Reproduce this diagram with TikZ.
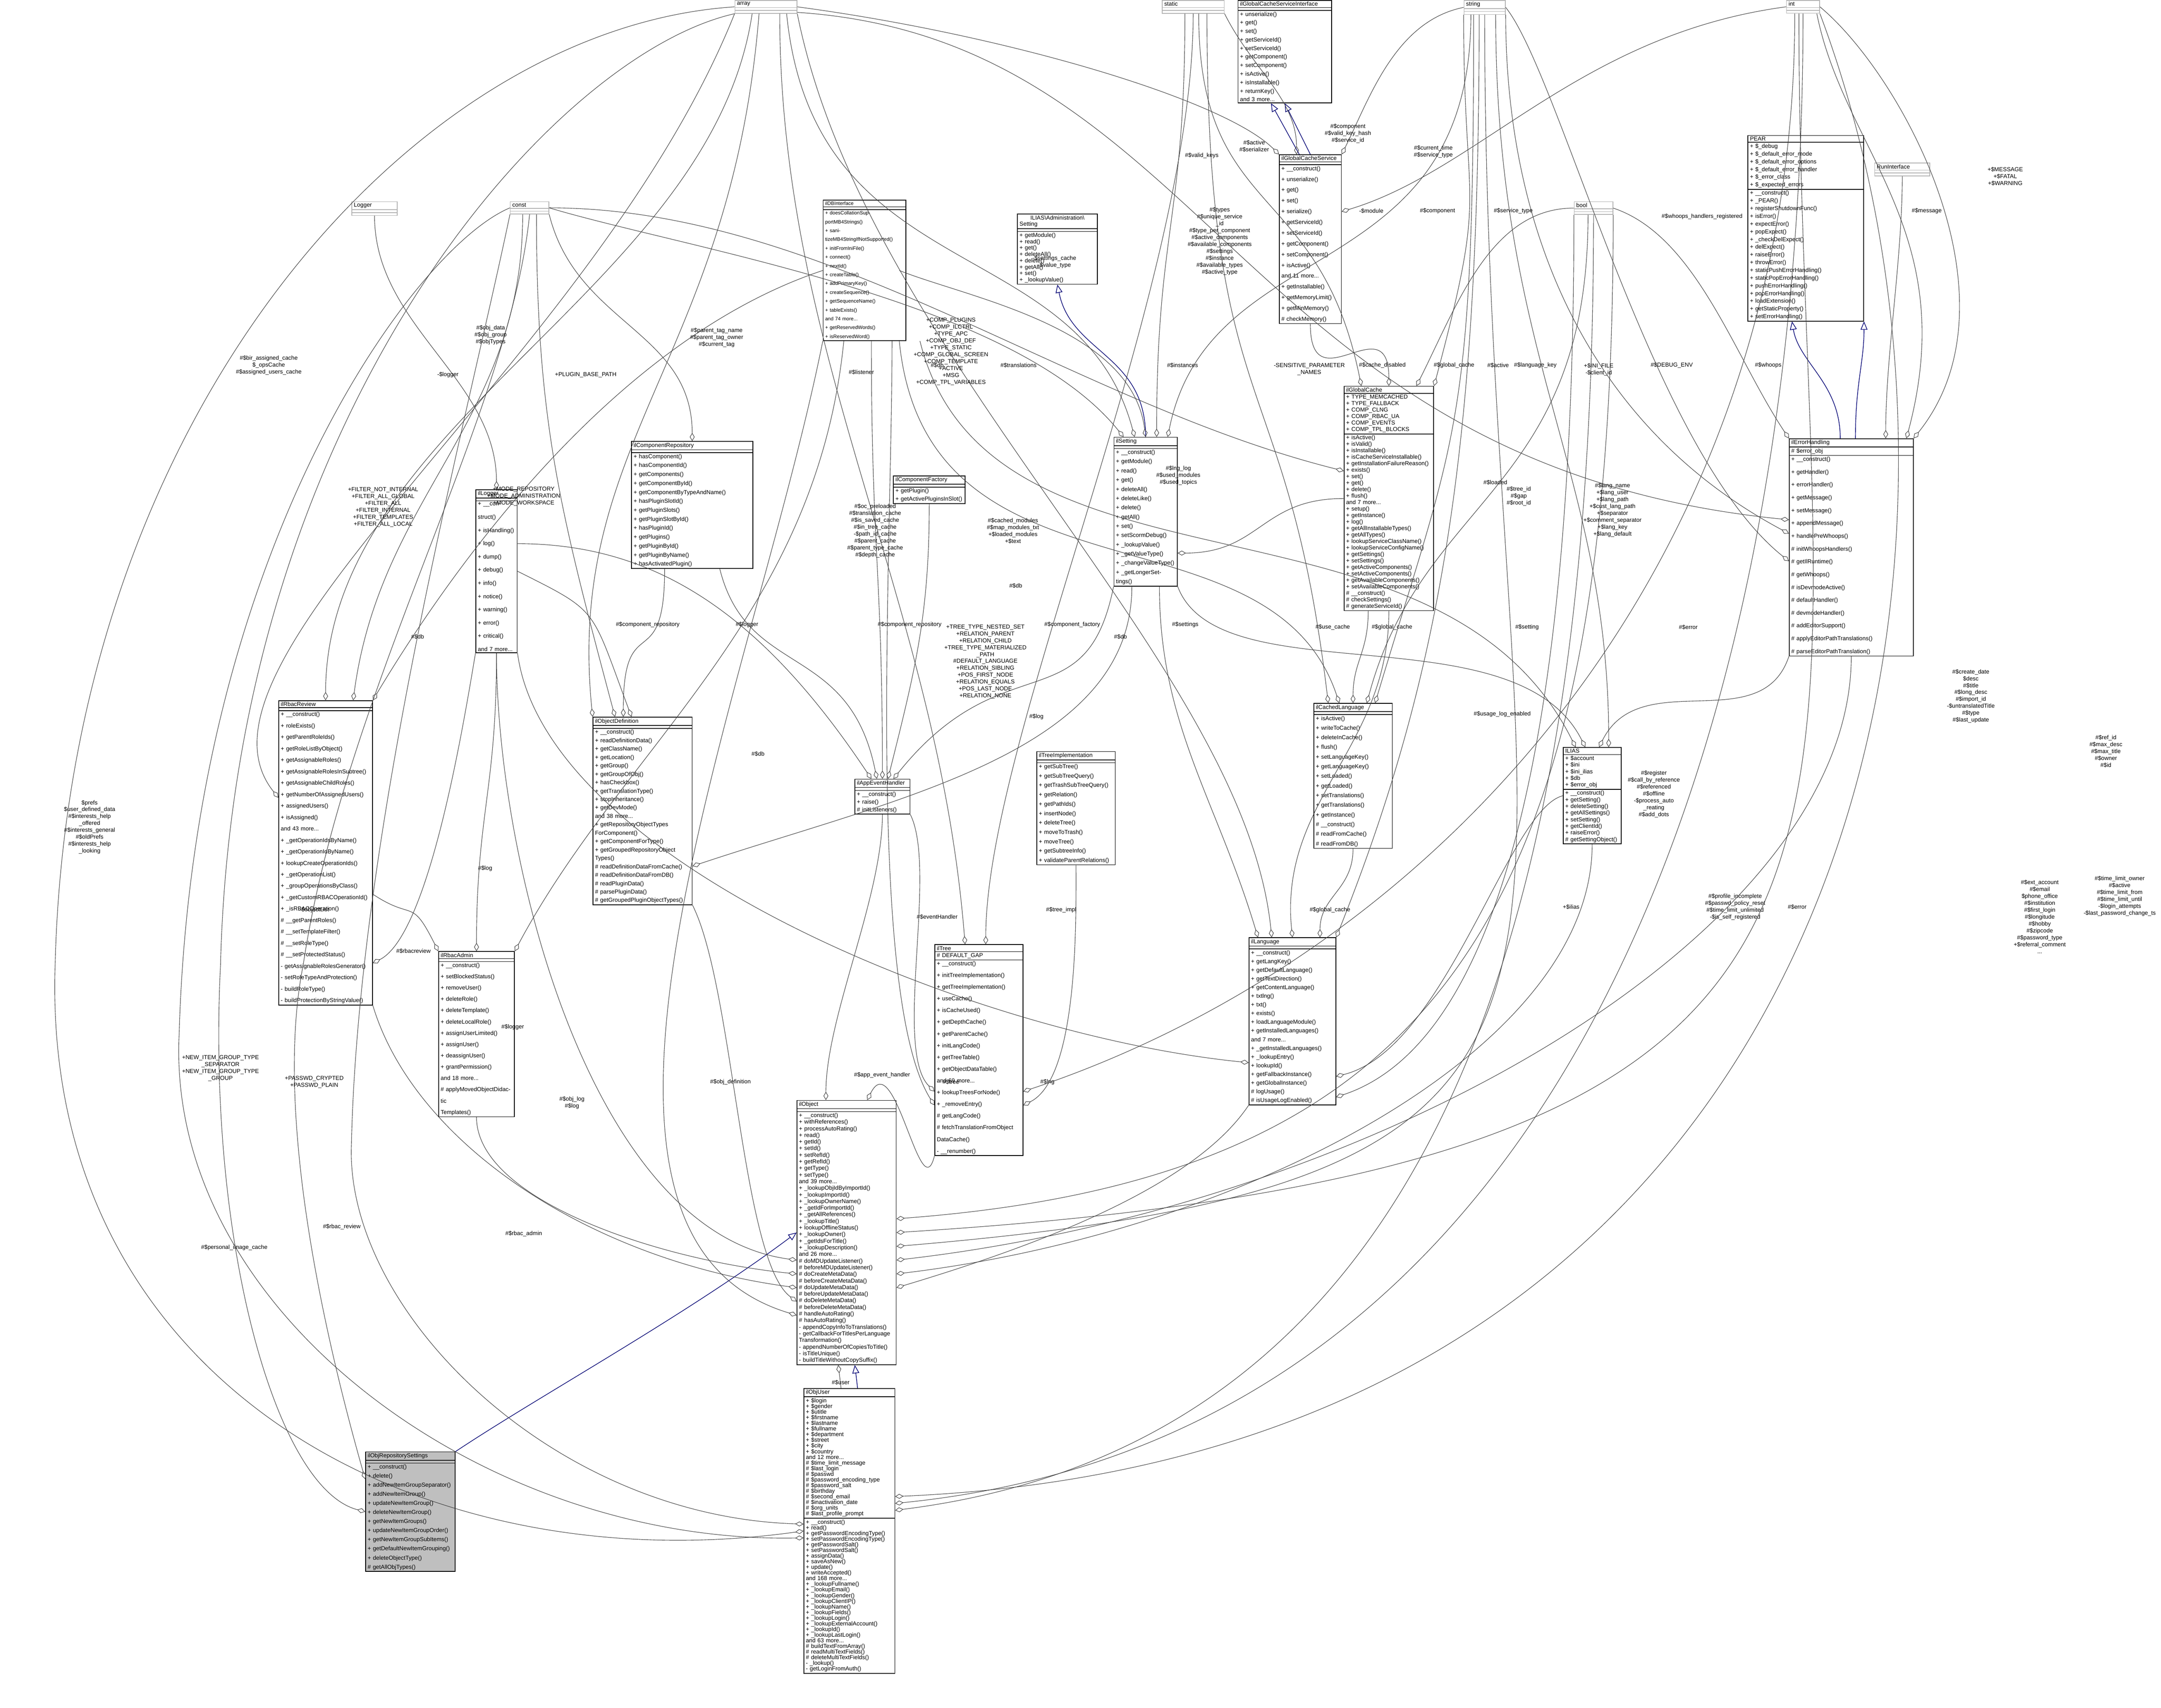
\documentclass[tikz,border=0pt]{standalone}
\usepackage{fontspec}
\setmainfont{Liberation Sans}
\usetikzlibrary{shapes.multipart,arrows.meta}
\tikzset{
  cls/.style={rectangle split, rectangle split parts=3, draw=black, line width=0.5pt,
    anchor=north west, inner xsep=1.5pt, inner ysep=0.8pt, align=left,
    rectangle split empty part height=3pt, fill=white, font=\fontsize{4.2}{5}\selectfont},
  lead/.style={font=\fontsize{4.2}{#1}\selectfont},
  typ/.style={cls, draw=black!30},
  lab/.style={font=\fontsize{4.2}{5}\selectfont, align=center, inner sep=0pt},
  agg/.style={draw=black!75, line width=0.35pt, {Diamond[open,length=6pt,width=3.5pt]}-},
  inh/.style={draw=blue!45!black, line width=0.45pt, -{Triangle[open,length=6pt,width=5pt]}},
}
% class box: [options]{name}{x}{y}{text width}{title}{attributes}{methods}
\newcommand{\cls}[8][]{\node[cls,text width=#5pt,#1] (#2) at (#3,#4) {\centering #6\nodepart{second}#7\nodepart{third}#8};}
% plain type box
\newcommand{\typ}[5]{\node[typ,text width=#4pt] (#1) at (#2,#3) {\centering #5\nodepart{second}\nodepart{third}};}
% connector: [style]{from}{leaving dir}{to}{arriving dir} (directions in picture coords, y down)
\newcommand{\conn}[5][agg]{\draw[#1] (#2) .. controls +#3 and +#5 .. (#4);}
\begin{document}
\begin{tikzpicture}[x=1pt,y=-1pt]
\path[use as bounding box] (0,0) rectangle (1568,1239);

% basic types
\typ{arr}{533}{0}{42}{array}
\typ{stat}{843}{0}{42}{static}
\typ{str}{1062}{0}{27}{string}
\typ{intt}{1296}{0}{21}{int}
\typ{bool}{1142}{146}{25}{bool}
\typ{const}{370}{146}{25}{const}
\typ{logger}{255}{146}{30}{Logger}
\typ{runif}{1360}{118}{37}{RunInterface}

% classes
\cls[lead=6.2]{gcsi}{898}{0}{65}{ilGlobalCacheServiceInterface}{}{+ unserialize()\\+ get()\\+ set()\\+ getServiceId()\\+ setServiceId()\\+ getComponent()\\+ setComponent()\\+ isActive()\\+ isInstallable()\\+ returnKey()\\and 3 more...}
\cls[lead=5.6]{pear}{1268}{98}{81}{PEAR}{+ \$\_debug\\+ \$\_default\_error\_mode\\+ \$\_default\_error\_options\\+ \$\_default\_error\_handler\\+ \$\_error\_class\\+ \$\_expected\_errors}{+ \_\_construct()\\+ \_PEAR()\\+ registerShutdownFunc()\\+ isError()\\+ expectError()\\+ popExpect()\\+ \_checkDelExpect()\\+ delExpect()\\+ raiseError()\\+ throwError()\\+ staticPushErrorHandling()\\+ staticPopErrorHandling()\\+ pushErrorHandling()\\+ popErrorHandling()\\+ loadExtension()\\+ getStaticProperty()\\+ setErrorHandling()}
\cls[lead=9.3]{errh}{1298}{318}{87}{ilErrorHandling}{\# \$error\_obj}{+ \_\_construct()\\+ getHandler()\\+ errorHandler()\\+ getMessage()\\+ setMessage()\\+ appendMessage()\\+ handlePreWhoops()\\\# initWhoopsHandlers()\\\# getIlRuntime()\\\# getWhoops()\\\# isDevmodeActive()\\\# defaultHandler()\\\# devmodeHandler()\\\# addEditorSupport()\\\# applyEditorPathTranslations()\\\# parseEditorPathTranslation()}
\cls[lead=7.8]{gcs}{928}{112}{42}{ilGlobalCacheService}{}{+ \_\_construct()\\+ unserialize()\\+ get()\\+ set()\\+ serialize()\\+ getServiceId()\\+ setServiceId()\\+ getComponent()\\+ setComponent()\\+ isActive()\\and 11 more...\\+ getInstallable()\\+ getMemoryLimit()\\+ getMinMemory()\\\# checkMemory()}
\cls[font=\fontsize{3.6}{6.4}\selectfont]{dbi}{597}{145}{57}{ilDBInterface}{}{+ doesCollationSupportMB4Strings()\\+ sanitizeMB4StringIfNotSupported()\\+ initFromIniFile()\\+ connect()\\+ nextId()\\+ createTable()\\+ addPrimaryKey()\\+ createSequence()\\+ getSequenceName()\\+ tableExists()\\and 74 more...\\+ getReservedWords()\\+ isReservedWord()}
\cls[lead=4.6]{admset}{738}{155}{55}{ILIAS\textbackslash Administration\textbackslash\\Setting}{}{+ getModule()\\+ read()\\+ get()\\+ deleteAll()\\+ delete()\\+ getAll()\\+ set()\\+ \_lookupValue()}
\cls[lead=6.7]{sett}{808}{317}{43}{ilSetting}{}{+ \_\_construct()\\+ getModule()\\+ read()\\+ get()\\+ deleteAll()\\+ deleteLike()\\+ delete()\\+ getAll()\\+ set()\\+ setScormDebug()\\+ \_lookupValue()\\+ \_getValueType()\\+ \_changeValueType()\\+ \_getLongerSettings()}
\cls[lead=4.7]{gcache}{975}{280}{62}{ilGlobalCache}{+ TYPE\_MEMCACHED\\+ TYPE\_FALLBACK\\+ COMP\_CLNG\\+ COMP\_RBAC\_UA\\+ COMP\_EVENTS\\+ COMP\_TPL\_BLOCKS}{+ isActive()\\+ isValid()\\+ isInstallable()\\+ isCacheServiceInstallable()\\+ getInstallationFailureReason()\\+ exists()\\+ set()\\+ get()\\+ delete()\\+ flush()\\and 7 more...\\+ setup()\\+ getInstance()\\+ log()\\+ getAllInstallableTypes()\\+ getAllTypes()\\+ lookupServiceClassName()\\+ lookupServiceConfigName()\\+ getSettings()\\+ setSettings()\\+ getActiveComponents()\\+ setActiveComponents()\\+ getAvailableComponents()\\+ setAvailableComponents()\\\# \_\_construct()\\\# checkSettings()\\\# generateServiceId()}
\cls[lead=9.6]{ilog}{345}{355}{27}{ilLogger}{}{+ \_\_construct()\\+ isHandling()\\+ log()\\+ dump()\\+ debug()\\+ info()\\+ notice()\\+ warning()\\+ error()\\+ critical()\\and 7 more...}
\cls[lead=6.5]{comprep}{458}{320}{85}{ilComponentRepository}{}{+ hasComponent()\\+ hasComponentId()\\+ getComponents()\\+ getComponentById()\\+ getComponentByTypeAndName()\\+ hasPluginSlotId()\\+ getPluginSlots()\\+ getPluginSlotById()\\+ hasPluginId()\\+ getPlugins()\\+ getPluginById()\\+ getPluginByName()\\+ hasActivatedPlugin()}
\cls[lead=6]{compfac}{648}{345}{49}{ilComponentFactory}{}{+ getPlugin()\\+ getActivePluginsInSlot()}
\cls[lead=8.3]{rbrev}{202}{508}{65}{ilRbacReview}{}{+ \_\_construct()\\+ roleExists()\\+ getParentRoleIds()\\+ getRoleListByObject()\\+ getAssignableRoles()\\+ getAssignableRolesInSubtree()\\+ getAssignableChildRoles()\\+ getNumberOfAssignedUsers()\\+ assignedUsers()\\+ isAssigned()\\and 43 more...\\+ \_getOperationIdsByName()\\+ \_getOperationIdByName()\\+ lookupCreateOperationIds()\\+ \_getOperationList()\\+ \_groupOperationsByClass()\\+ \_getCustomRBACOperationId()\\+ \_isRBACOperation()\\\# \_\_getParentRoles()\\\# \_\_setTemplateFilter()\\\# \_\_setRoleType()\\\# \_\_setProtectedStatus()\\- getAssignableRolesGenerator()\\- setRoleTypeAndProtection()\\- buildRoleType()\\- buildProtectionByStringValue()}
\cls[lead=6.1]{objdef}{430}{520}{69}{ilObjectDefinition}{}{+ \_\_construct()\\+ readDefinitionData()\\+ getClassName()\\+ getLocation()\\+ getGroup()\\+ getGroupOfObj()\\+ hasCheckbox()\\+ getTranslationType()\\+ stopInheritance()\\+ getDevMode()\\and 38 more...\\+ getRepositoryObjectTypes\\ForComponent()\\+ getComponentForType()\\+ getGroupedRepositoryObject\\Types()\\\# readDefinitionDataFromCache()\\\# readDefinitionDataFromDB()\\\# readPluginData()\\\# parsePluginData()\\\# getGroupedPluginObjectTypes()}
\cls[lead=5.6]{appev}{620}{565}{37}{ilAppEventHandler}{}{+ \_\_construct()\\+ raise()\\\# initListeners()}
\cls[lead=6.8]{treeimpl}{752}{545}{54}{ilTreeImplementation}{}{+ getSubTree()\\+ getSubTreeQuery()\\+ getTrashSubTreeQuery()\\+ getRelation()\\+ getPathIds()\\+ insertNode()\\+ deleteTree()\\+ moveToTrash()\\+ moveTree()\\+ getSubtreeInfo()\\+ validateParentRelations()}
\cls[lead=7]{clang}{953}{510}{54}{ilCachedLanguage}{}{+ isActive()\\+ writeToCache()\\+ deleteInCache()\\+ flush()\\+ setLanguageKey()\\+ getLanguageKey()\\+ setLoaded()\\+ getLoaded()\\+ setTranslations()\\+ getTranslations()\\+ getInstance()\\\# \_\_construct()\\\# readFromCache()\\\# readFromDB()}
\cls[lead=4.8]{ilias}{1134}{542}{39}{ILIAS}{+ \$account\\+ \$ini\\+ \$ini\_ilias\\+ \$db\\+ \$error\_obj}{+ \_\_construct()\\+ getSetting()\\+ deleteSetting()\\+ getAllSettings()\\+ setSetting()\\+ getClientId()\\+ raiseError()\\\# getSettingObject()}
\cls[lead=8.2]{rbadm}{318}{690}{52}{ilRbacAdmin}{}{+ \_\_construct()\\+ setBlockedStatus()\\+ removeUser()\\+ deleteRole()\\+ deleteTemplate()\\+ deleteLocalRole()\\+ assignUserLimited()\\+ assignUser()\\+ deassignUser()\\+ grantPermission()\\and 18 more...\\\# applyMovedObjectDidactic\\Templates()}
\cls[lead=8.5]{tree}{678}{685}{61}{ilTree}{\# DEFAULT\_GAP}{+ \_\_construct()\\+ initTreeImplementation()\\+ getTreeImplementation()\\+ useCache()\\+ isCacheUsed()\\+ getDepthCache()\\+ getParentCache()\\+ initLangCode()\\+ getTreeTable()\\+ getObjectDataTable()\\and 69 more...\\+ lookupTreesForNode()\\+ \_removeEntry()\\\# getLangCode()\\\# fetchTranslationFromObject\\DataCache()\\- \_\_renumber()}
\cls[lead=6.3]{lang}{906}{680}{60}{ilLanguage}{}{+ \_\_construct()\\+ getLangKey()\\+ getDefaultLanguage()\\+ getTextDirection()\\+ getContentLanguage()\\+ txtlng()\\+ txt()\\+ exists()\\+ loadLanguageModule()\\+ getInstalledLanguages()\\and 7 more...\\+ \_getInstalledLanguages()\\+ \_lookupEntry()\\+ lookupId()\\+ getFallbackInstance()\\+ getGlobalInstance()\\\# logUsage()\\\# isUsageLogEnabled()}
\cls[lead=4.8]{obj}{578}{798}{69}{ilObject}{}{+ \_\_construct()\\+ withReferences()\\+ processAutoRating()\\+ read()\\+ getId()\\+ setId()\\+ setRefId()\\+ getRefId()\\+ getType()\\+ setType()\\and 39 more...\\+ \_lookupObjIdByImportId()\\+ \_lookupImportId()\\+ \_lookupOwnerName()\\+ \_getIdForImportId()\\+ \_getAllReferences()\\+ \_lookupTitle()\\+ lookupOfflineStatus()\\+ \_lookupOwner()\\+ \_getIdsForTitle()\\+ \_lookupDescription()\\and 26 more...\\\# doMDUpdateListener()\\\# beforeMDUpdateListener()\\\# doCreateMetaData()\\\# beforeCreateMetaData()\\\# doUpdateMetaData()\\\# beforeUpdateMetaData()\\\# doDeleteMetaData()\\\# beforeDeleteMetaData()\\\# handleAutoRating()\\\# hasAutoRating()\\- appendCopyInfoToTranslations()\\- getCallbackForTitlesPerLanguage\\Transformation()\\- appendNumberOfCopiesToTitle()\\- isTitleUnique()\\- buildTitleWithoutCopySuffix()}
\cls[lead=4.1]{objuser}{583}{1007}{63}{ilObjUser}{+ \$login\\+ \$gender\\+ \$utitle\\+ \$firstname\\+ \$lastname\\+ \$fullname\\+ \$department\\+ \$street\\+ \$city\\+ \$country\\and 12 more...\\\# \$time\_limit\_message\\\# \$last\_login\\\# \$passwd\\\# \$password\_encoding\_type\\\# \$password\_salt\\\# \$birthday\\\# \$second\_email\\\# \$inactivation\_date\\\# \$org\_units\\\# \$last\_profile\_prompt}{+ \_\_construct()\\+ read()\\+ getPasswordEncodingType()\\+ setPasswordEncodingType()\\+ getPasswordSalt()\\+ setPasswordSalt()\\+ assignData()\\+ saveAsNew()\\+ update()\\+ writeAccepted()\\and 168 more...\\+ \_lookupFullname()\\+ \_lookupEmail()\\+ \_lookupGender()\\+ \_lookupClientIP()\\+ \_lookupName()\\+ \_lookupFields()\\+ \_lookupLogin()\\+ \_lookupExternalAccount()\\+ \_lookupId()\\+ \_lookupLastLogin()\\and 63 more...\\\# buildTextFromArray()\\\# readMultiTextFields()\\\# deleteMultiTextFields()\\- \_lookup()\\- getLoginFromAuth()}
\cls[fill=black!25,lead=6.6]{reposet}{265}{1053}{62}{ilObjRepositorySettings}{}{+ \_\_construct()\\+ delete()\\+ addNewItemGroupSeparator()\\+ addNewItemGroup()\\+ updateNewItemGroup()\\+ deleteNewItemGroup()\\+ getNewItemGroups()\\+ updateNewItemGroupOrder()\\+ getNewItemGroupSubItems()\\+ getDefaultNewItemGrouping()\\+ deleteObjectType()\\\# getAllObjTypes()}

% inheritance
\draw[inh] (gcs.north) -- (gcsi.south);
\draw[inh] ([xshift=-8pt]gcs.north) -- ([xshift=-10pt]gcsi.south);
\conn[inh]{sett.north}{(0,-60)}{admset.south}{(10,50)}
\conn[inh]{[xshift=-8pt]errh.north}{(0,-40)}{[xshift=-10pt]pear.south}{(5,30)}
\conn[inh]{[xshift=3pt]errh.north}{(0,-40)}{pear.south east}{(0,30)}
\draw[inh] ([xshift=6pt]objuser.north) -- ([xshift=6pt]obj.south);
\conn[inh]{reposet.north east}{(60,-40)}{obj.west}{(-80,60)}

% aggregations
\draw[agg] ([xshift=-6pt]obj.south) -- ([xshift=-6pt]objuser.north);
\node[lab] (l_user) at (610,1003) {\#\$user};
\draw[agg] (objuser.west) .. controls (300,1150) and (30,1000) .. (40,700) .. controls (50,300) and (300,20) .. (arr.west);
\node[lab] (l_prefs) at (65,600) {\$prefs\\\$user\_defined\_data\\\#\$interests\_help\\\_offered\\\#\$interests\_general\\\#\$oldPrefs\\\#\$interests\_help\\\_looking};
\draw[agg] ([yshift=-5pt]objuser.west) .. controls (350,1120) and (120,950) .. (130,750) .. controls (140,400) and (300,180) .. (const.west);
\node[lab] (l_pic) at (170,905) {\#\$personal\_image\_cache};
\draw[agg] (reposet.west) .. controls (200,1080) and (150,900) .. (160,700) .. controls (170,300) and (400,40) .. (arr.south west);
\node[lab] (l_newitem) at (160,775) {+NEW\_ITEM\_GROUP\_TYPE\\\_SEPARATOR\\+NEW\_ITEM\_GROUP\_TYPE\\\_GROUP};
\draw[agg] ([yshift=-20pt]reposet.north west) .. controls (230,950) and (200,800) .. (220,700) .. controls (250,500) and (370,300) .. (const.south);
\node[lab] (l_passwd) at (228,785) {+PASSWD\_CRYPTED\\+PASSWD\_PLAIN};
\draw[agg] ([yshift=5pt]objuser.west) .. controls (400,1100) and (250,950) .. (255,830) .. controls (260,600) and (340,300) .. (const.south west);
\conn{[yshift=20pt]objuser.east}{(500,-50)}{intt.south}{(0,500)}
\node[lab] (l_ext) at (1480,665) {\#\$ext\_account\\\#\$email\\\$phone\_office\\\#\$institution\\\#\$first\_login\\\#\$longitude\\\#\$hobby\\\#\$zipcode\\\#\$password\_type\\+\$referral\_comment\\...};
\conn{[yshift=25pt]objuser.east}{(700,-30)}{intt.south east}{(150,400)}
\node[lab] (l_tlim) at (1538,650) {\#\$time\_limit\_owner\\\#\$active\\\#\$time\_limit\_from\\\#\$time\_limit\_until\\-\$login\_attempts\\-\$last\_password\_change\_ts};
\conn{[yshift=15pt]objuser.east}{(400,-50)}{bool.south}{(0,500)}
\node[lab] (l_prof) at (1259,658) {\#\$profile\_incomplete\\\#\$passwd\_policy\_reset\\\#\$time\_limit\_unlimited\\-\$is\_self\_registered};

\conn{[yshift=-40pt]obj.west}{(-150,-20)}{rbrev.south east}{(30,100)}
\node[lab] (l_rbrev) at (248,890) {\#\$rbac\_review};
\conn{[yshift=-30pt]obj.west}{(-100,-10)}{rbadm.south}{(0,60)}
\node[lab] (l_rbadm) at (380,895) {\#\$rbac\_admin};
\conn{[yshift=-20pt]obj.west}{(-150,-20)}{ilog.south}{(0,150)}
\node[lab] (l_objlog) at (415,800) {\#\$obj\_log\\\#\$log};
\conn{[yshift=-50pt]obj.west}{(-40,-30)}{objdef.south east}{(30,60)}
\node[lab] (l_objdef) at (530,785) {\#\$obj\_definition};
\conn{[xshift=-15pt]obj.north}{(0,-60)}{appev.south}{(0,60)}
\node[lab] (l_appev) at (640,780) {\#\$app\_event\_handler};
\conn{[xshift=15pt]obj.north}{(20,-40)}{tree.south west}{(-10,40)}
\node[lab] (l_tree) at (690,785) {\#\$tree};
\conn{[yshift=-40pt]obj.east}{(100,-30)}{lang.south west}{(-40,60)}
\node[lab] (l_lng) at (760,785) {\#\$lng};
\conn{[yshift=-30pt]obj.east}{(250,-30)}{ilias.south}{(0,150)}
\node[lab] (l_ilias) at (1140,658) {+\$ilias};
\conn{[yshift=-20pt]obj.east}{(350,-40)}{errh.south}{(0,200)}
\node[lab] (l_err) at (1304,658) {\#\$error};
\conn{[yshift=-10pt]obj.east}{(600,-50)}{str.south}{(0,700)}
\node[lab] (l_crdate) at (1430,505) {\#\$create\_date\\\$desc\\\#\$title\\\#\$long\_desc\\\#\$import\_id\\-\$untranslatedTitle\\\#\$type\\\#\$last\_update};
\conn{obj.east}{(800,-50)}{[xshift=-3pt]intt.south}{(0,600)}
\node[lab] (l_refid) at (1528,545) {\#\$ref\_id\\\#\$max\_desc\\\#\$max\_title\\\#\$owner\\\#\$id};
\conn{[yshift=10pt]obj.east}{(400,-30)}{bool.south east}{(0,500)}
\node[lab] (l_reg) at (1200,576) {\#\$register\\\#\$call\_by\_reference\\\#\$referenced\\\#\$offline\\-\$process\_auto\\\_reating\\\#\$add\_dots};
\conn{[yshift=-60pt]obj.west}{(-200,-60)}{dbi.south west}{(-50,250)}
\node[lab] (l_db0) at (550,547) {\#\$db};

\conn{[yshift=-40pt]tree.west}{(-50,-80)}{[xshift=20pt]dbi.south}{(0,150)}
\node[lab] (l_db1) at (737,425) {\#\$db};
\conn{[yshift=-30pt]tree.west}{(-30,-30)}{appev.south east}{(20,40)}
\node[lab] (l_evh) at (680,665) {\#\$eventHandler};
\conn{[yshift=-40pt]tree.east}{(40,-20)}{treeimpl.south}{(0,40)}
\node[lab] (l_timpl) at (770,660) {\#\$tree\_impl};
\conn{[xshift=5pt]tree.north}{(0,-150)}{stat.south}{(0,200)}
\node[lab] (l_treec) at (715,480) {+TREE\_TYPE\_NESTED\_SET\\+RELATION\_PARENT\\+RELATION\_CHILD\\+TREE\_TYPE\_MATERIALIZED\\\_PATH\\\#DEFAULT\_LANGUAGE\\+RELATION\_SIBLING\\+POS\_FIRST\_NODE\\+RELATION\_EQUALS\\+POS\_LAST\_NODE\\+RELATION\_NONE};
\conn{[xshift=-10pt]tree.north}{(-20,-250)}{[xshift=10pt]arr.south}{(0,250)}
\node[lab] (l_occ) at (635,385) {\#\$oc\_preloaded\\\#\$translation\_cache\\\#\$is\_saved\_cache\\\#\$in\_tree\_cache\\-\$path\_id\_cache\\\#\$parent\_cache\\\#\$parent\_type\_cache\\\#\$depth\_cache};
\conn{[yshift=-30pt]tree.east}{(300,-100)}{[xshift=-6pt]intt.south}{(0,400)}
\node[lab] (l_treeid) at (1102,360) {\#\$tree\_id\\\#\$gap\\\#\$root\_id};

\conn{[xshift=20pt]lang.north}{(0,-30)}{clang.south}{(0,30)}
\conn{lang.north}{(-10,-100)}{gcache.south}{(0,100)}
\node[lab] (l_gc1) at (965,660) {\#\$global\_cache};
\conn{[yshift=-30pt]lang.west}{(-200,-20)}{ilog.south east}{(20,150)}
\node[lab] (l_log2) at (752,520) {\#\$log};
\conn{[xshift=-15pt]lang.north}{(-20,-200)}{arr.south east}{(50,250)}
\node[lab] (l_lnglog) at (855,345) {\#\$lng\_log\\\#\$used\_modules\\\#\$used\_topics};
\conn{[yshift=-40pt]lang.east}{(80,-20)}{ilias.west}{(-40,10)}
\conn{[yshift=-55pt]lang.east}{(150,-50)}{bool.south west}{(0,250)}
\node[lab] (l_usage) at (1090,518) {\#\$usage\_log\_enabled};
\conn{lang.north east}{(80,-200)}{[xshift=-4pt]str.south}{(0,300)}
\node[lab] (l_lname) at (1170,370) {\#\$lang\_name\\+\$lang\_user\\+\$lang\_path\\+\$cust\_lang\_path\\+\$separator\\+\$comment\_separator\\+\$lang\_key\\+\$lang\_default};
\conn{[xshift=-25pt]lang.north}{(-30,-100)}{[xshift=10pt]sett.south}{(0,100)}
\node[lab] (l_cmods) at (735,385) {\#\$cached\_modules\\\#\$map\_modules\_txt\\+\$loaded\_modules\\+\$text};

\conn{clang.north}{(0,-30)}{[xshift=-15pt]gcache.south}{(0,30)}
\node[lab] (l_gc2) at (1010,455) {\#\$global\_cache};
\conn{[xshift=-10pt]clang.north}{(-50,-150)}{[xshift=-5pt]dbi.south east}{(20,200)}
\conn{[xshift=10pt]clang.north}{(40,-150)}{[xshift=-4pt]bool.south}{(0,200)}
\node[lab] (l_loaded) at (1085,350) {\#\$loaded};
\conn{[xshift=16pt]clang.north}{(60,-200)}{[xshift=-8pt]str.south}{(0,300)}
\node[lab] (l_lkey) at (1114,265) {\#\$language\_key};
\conn{[xshift=-18pt]clang.north}{(-30,-250)}{[xshift=10pt]stat.south}{(0,300)}
\node[lab] (l_ucache) at (967,455) {\#\$use\_cache};

\conn{[xshift=5pt]ilias.north}{(30,-60)}{errh.south west}{(-20,60)}
\node[lab] (l_err2) at (1225,455) {\#\$error};
\conn{[xshift=-5pt]ilias.north}{(-50,-100)}{sett.south east}{(30,80)}
\node[lab] (l_set) at (1108,455) {\#\$setting};
\conn{[xshift=12pt]ilias.north}{(0,-200)}{[xshift=8pt]str.south}{(0,250)}
\node[lab] (l_ini) at (1160,268) {+\$INI\_FILE\\-\$client\_id};
\conn{[xshift=-12pt]ilias.north}{(-100,-200)}{[xshift=10pt]dbi.south east}{(50,200)}

\conn{sett.north}{(-10,-80)}{[xshift=-5pt]dbi.east}{(50,20)}
\node[lab] (l_db2) at (680,265) {\#\$db};
\conn{[xshift=8pt]sett.north}{(0,-150)}{[xshift=-6pt]stat.south}{(0,150)}
\node[lab] (l_scache) at (765,190) {-\$settings\_cache\\-\$value\_type};
\conn{[xshift=-8pt]sett.north}{(-40,-150)}{[xshift=15pt]arr.south}{(20,200)}
\node[lab] (l_trans) at (739,265) {\#\$translations};
\conn{[xshift=16pt]sett.north}{(30,-150)}{[xshift=-10pt]str.south}{(0,200)}
\node[lab] (l_mod) at (995,153) {-\$module};
\conn{[xshift=-16pt]sett.north}{(-80,-100)}{const.east}{(100,30)}
\node[lab] (l_comps) at (690,255) {+COMP\_PLUGINS\\+COMP\_ILCTRL\\+TYPE\_APC\\+COMP\_OBJ\_DEF\\+TYPE\_STATIC\\+COMP\_GLOBAL\_SCREEN\\+COMP\_TEMPLATE\\+ACTIVE\\+MSG\\+COMP\_TPL\_VARIABLES};
\conn{[yshift=-30pt]sett.east}{(60,0)}{gcache.west}{(-60,0)}
\node[lab] (l_inst) at (858,265) {\#\$instances};

\conn{gcache.north}{(0,-60)}{gcs.south}{(0,60)}
\node[lab] (l_cdis) at (1003,265) {\#\$cache\_disabled};
\conn{[xshift=-20pt]gcache.north}{(-30,-150)}{[xshift=4pt]stat.south}{(0,150)}
\node[lab] (l_types) at (885,175) {\#\$types\\\#\$unique\_service\\\_id\\\#\$type\_per\_component\\\#\$active\_components\\\#\$available\_components\\\#\$settings\\\#\$instance\\\#\$available\_types\\\#\$active\_type};
\conn{[xshift=20pt]gcache.north}{(30,-60)}{bool.west}{(-60,0)}
\node[lab] (l_act) at (1087,265) {\#\$active};
\conn{[yshift=20pt]gcache.west}{(-200,-50)}{const.east}{(200,0)}
\node[lab] (l_sens) at (950,268) {-SENSITIVE\_PARAMETER\\\_NAMES};
\conn{gcache.north east}{(40,-150)}{str.south west}{(0,150)}
\node[lab] (l_gc3) at (1055,265) {\#\$global\_cache};

\conn{[xshift=-10pt]gcs.north}{(0,-40)}{stat.south east}{(20,40)}
\node[lab] (l_actser) at (910,106) {\#\$active\\\#\$serializer};
\conn{gcs.north east}{(20,-40)}{str.west}{(-50,10)}
\node[lab] (l_comp) at (978,97) {\#\$component\\\#\$valid\_key\_hash\\\#\$service\_id};
\conn{gcs.north west}{(-40,-40)}{arr.east}{(150,20)}
\node[lab] (l_vkeys) at (872,113) {\#\$valid\_keys};
\conn{[yshift=20pt]gcs.east}{(100,-30)}{intt.west}{(-150,20)}
\node[lab] (l_ctime) at (1040,110) {\#\$current\_time\\\#\$service\_type};

\conn{errh.north west}{(-40,-60)}{bool.east}{(60,20)}
\node[lab] (l_dbg) at (1213,265) {\#\$DEBUG\_ENV};
\conn{[xshift=25pt]errh.north}{(0,-60)}{runif.south}{(0,60)}
\node[lab] (l_whoops) at (1283,265) {\#\$whoops};
\conn{[xshift=40pt]errh.north}{(40,-150)}{[xshift=10pt]intt.south}{(20,100)}
\node[lab] (l_msg) at (1398,153) {\#\$message};
\conn{errh.north east}{(80,-100)}{intt.east}{(60,50)}
\node[lab] (l_fatal) at (1455,128) {+\$MESSAGE\\+\$FATAL\\+\$WARNING};
\conn{[yshift=20pt]errh.west}{(-400,-40)}{[yshift=-4pt]arr.east}{(300,20)}
\node[lab] (l_whreg) at (1235,157) {\#\$whoops\_handlers\_registered};
\conn{[yshift=10pt]errh.west}{(-150,-80)}{str.south east}{(0,150)}
\node[lab] (l_stype) at (1098,153) {\#\$service\_type};
\conn{[yshift=-10pt]errh.west}{(-100,-80)}{str.east}{(40,50)}
\node[lab] (l_comp2) at (1043,153) {\#\$component};

\conn{rbrev.north}{(0,-200)}{[xshift=-10pt]arr.south}{(-30,200)}
\node[lab] (l_bir) at (195,265) {\#\$bir\_assigned\_cache\\\$\_opsCache\\\#\$assigned\_users\_cache};
\conn{[xshift=20pt]rbrev.north}{(20,-150)}{[xshift=-5pt]const.south}{(0,150)}
\node[lab] (l_filt) at (278,368) {+FILTER\_NOT\_INTERNAL\\+FILTER\_ALL\_GLOBAL\\+FILTER\_ALL\\+FILTER\_INTERNAL\\+FILTER\_TEMPLATES\\+FILTER\_ALL\_LOCAL};
\conn{rbrev.north east}{(60,-100)}{dbi.west}{(-150,50)}
\node[lab] (l_db3) at (303,462) {\#\$db};
\conn{[yshift=-80pt]rbrev.east}{(40,-20)}{ilog.south west}{(-10,60)}
\node[lab] (l_log3) at (352,630) {\#\$log};
\conn{[yshift=40pt]rbrev.west}{(-80,-100)}{arr.south west}{(-100,250)}
\node[lab] (l_olist) at (228,660) {-\$objectList};

\conn{rbadm.north west}{(-20,-40)}{[yshift=-30pt]rbrev.east}{(30,20)}
\node[lab] (l_rbrev2) at (300,690) {\#\$rbacreview};
\conn{rbadm.north}{(0,-100)}{ilog.south}{(0,100)}
\node[lab] (l_logger) at (372,745) {\#\$logger};
\conn{rbadm.north east}{(80,-150)}{[xshift=-15pt]dbi.south}{(-20,200)}

\conn{ilog.north}{(0,-80)}{logger.south}{(0,80)}
\node[lab] (l_logger2) at (325,272) {-\$logger};

\conn{objdef.north west}{(-20,-200)}{[xshift=-5pt]arr.south}{(-20,250)}
\node[lab] (l_ptag) at (520,245) {\#\$parent\_tag\_name\\\#\$parent\_tag\_owner\\\#\$current\_tag};
\conn{[xshift=-20pt]objdef.north}{(-40,-150)}{[xshift=5pt]const.south}{(0,150)}
\node[lab] (l_mode) at (380,360) {+MODE\_REPOSITORY\\+MODE\_ADMINISTRATION\\+MODE\_WORKSPACE};
\conn{[xshift=-14pt]objdef.north}{(0,-80)}{[xshift=-20pt]comprep.south}{(0,80)}
\node[lab] (l_crep) at (470,453) {\#\$component\_repository};
\conn{[xshift=-8pt]objdef.north}{(-30,-80)}{ilog.east}{(60,30)}
\node[lab] (l_objd) at (356,243) {\#\$obj\_data\\\#\$obj\_group\\\#\$objTypes};
\conn{[yshift=-40pt]objdef.east}{(150,-50)}{[xshift=-10pt]sett.south}{(0,120)}
\node[lab] (l_setts) at (860,453) {\#\$settings};

\conn{comprep.north}{(0,-80)}{const.south east}{(20,80)}
\node[lab] (l_plug) at (425,272) {+PLUGIN\_BASE\_PATH};

\conn{appev.north}{(0,-150)}{[xshift=5pt]dbi.south}{(0,150)}
\node[lab] (l_listen) at (625,270) {\#\$listener};
\conn{[xshift=-4pt]appev.north}{(-20,-100)}{[xshift=20pt]comprep.south}{(20,80)}
\node[lab] (l_crep2) at (660,453) {\#\$component\_repository};
\conn{[xshift=4pt]appev.north}{(20,-80)}{compfac.south}{(0,80)}
\node[lab] (l_cfac) at (778,453) {\#\$component\_factory};
\conn{[xshift=-8pt]appev.north}{(-80,-120)}{[yshift=20pt]ilog.east}{(100,0)}
\node[lab] (l_logger3) at (542,453) {\#\$logger};
\conn{[xshift=8pt]appev.north}{(80,-100)}{sett.south west}{(-20,100)}
\node[lab] (l_db4) at (813,462) {\#\$db};
\end{tikzpicture}
\end{document}
